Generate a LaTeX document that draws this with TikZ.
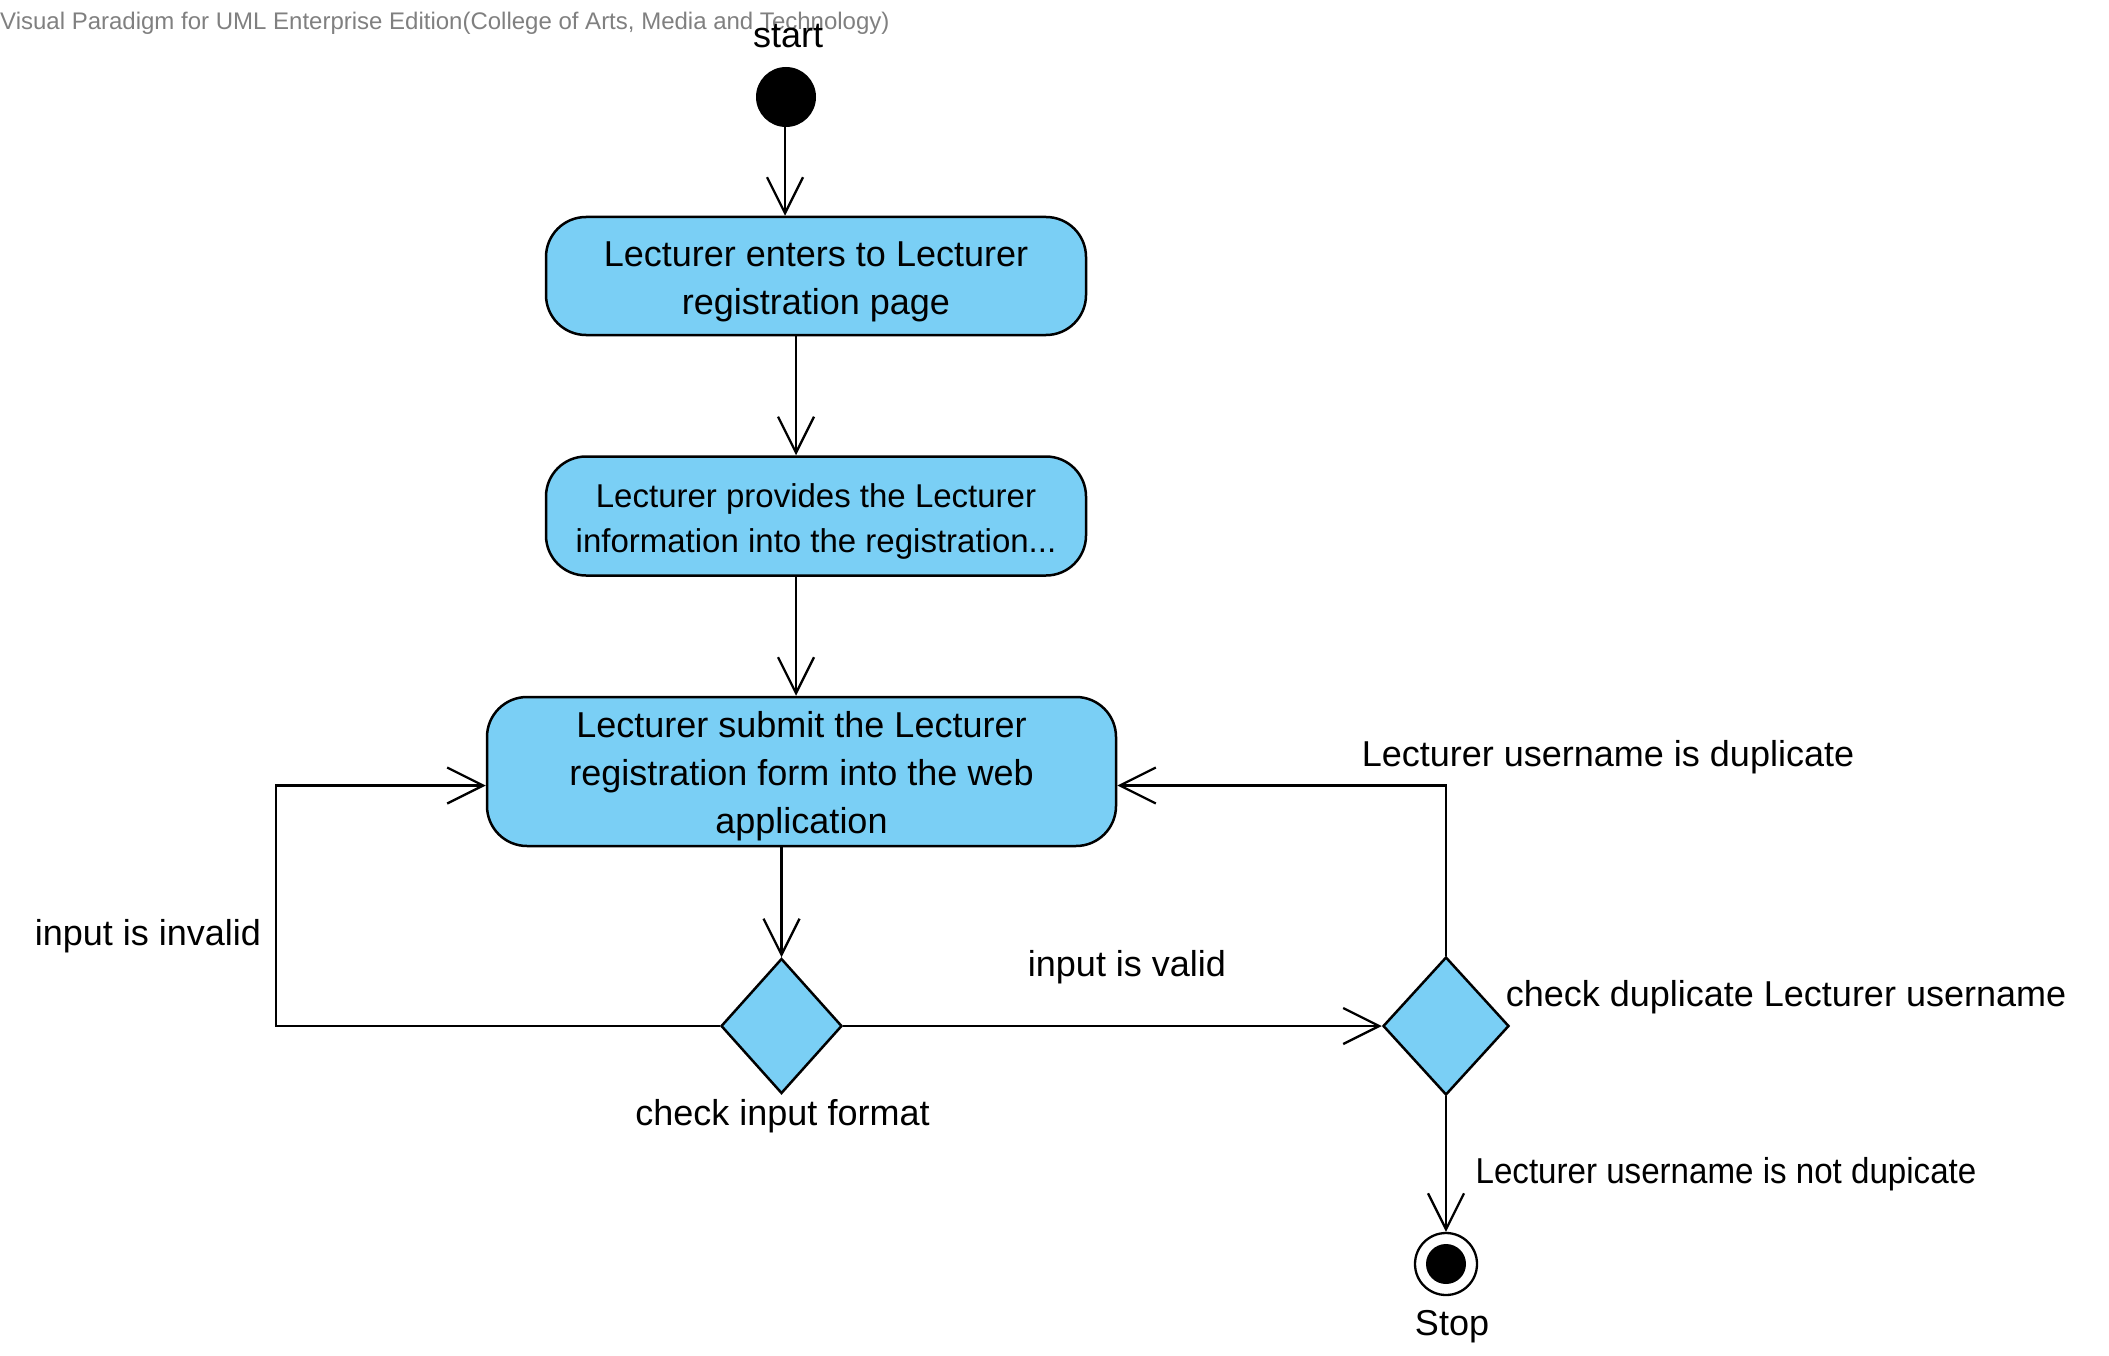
\documentclass[tikz,border=0pt]{standalone}
\usepackage{fontspec}
\setmainfont{Liberation Sans}
\usetikzlibrary{shapes.geometric,arrows.meta}
\definecolor{actfill}{RGB}{122,207,245}
\definecolor{hdrgray}{RGB}{128,128,128}
\begin{document}
\begin{tikzpicture}[x=1pt,y=-1pt,
  every node/.style={font=\fontsize{36}{48}\selectfont},
  act/.style={draw, line width=2.5pt, fill=actfill, rounded corners=40pt, inner sep=0pt},
  acttext/.style={inner sep=0pt, align=center, yshift=-6pt},
  decis/.style={draw, line width=2.5pt, fill=actfill, diamond, inner sep=0pt},
  lbl/.style={inner sep=0pt},
  flow/.style={line width=2.3pt, -{Straight Barb[length=36pt,width=36pt,line width=2.3pt]}}
]
\useasboundingbox (0,0) rectangle (2109,1356);
% header
\node[lbl, anchor=west, text=hdrgray, font=\fontsize{24}{29}\selectfont] (hdr) at (0,23) {Visual Paradigm for UML Enterprise Edition(College of Arts, Media and Technology)};
% nodes
\node[circle, fill=black, minimum size=60pt, inner sep=0pt] (start) at (786,97) {};
\node[lbl] (startlbl) at (788,36) {start};
\node[act, minimum width=540pt, minimum height=118pt,
  label={[acttext]center:Lecturer enters to Lecturer\\registration page}] (a1) at (816,276) {};
\node[act, minimum width=540pt, minimum height=119pt,
  label={[acttext, yshift=1pt, font=\fontsize{33}{45}\selectfont]center:Lecturer provides the Lecturer\\information into the registration...}] (a2) at (816,516) {};
\node[act, minimum width=629pt, minimum height=149pt,
  label={[acttext, yshift=1pt]center:Lecturer submit the Lecturer\\registration form into the web\\application}] (a3) at (801.5,771.5) {};
\node[decis, minimum width=121pt, minimum height=135pt] (d1) at (781.5,1026) {};
\node[decis, minimum width=126pt, minimum height=138pt] (d2) at (1446,1026) {};
\node[circle, draw, line width=2.3pt, fill=white, minimum size=62pt, inner sep=0pt] (stop) at (1446,1264) {};
\fill (stop.center) circle (20pt);
% labels
\node[lbl] (lchk) at (782.5,1116) {check input format};
\node[lbl] (ldup) at (1786,997) {check duplicate Lecturer username};
\node[lbl] (linv) at (148,936) {input is invalid};
\node[lbl] (lval) at (1127,967) {input is valid};
\node[lbl] (lisdup) at (1608,757) {Lecturer username is duplicate};
\node[lbl, xscale=0.92] (lnotdup) at (1726,1174) {Lecturer username is not dupicate};
\node[lbl] (lstop) at (1452,1327) {Stop};
% helper coordinates
\coordinate (c1) at (785,0);
\coordinate (c2) at (796,0);
\coordinate (L) at (276,785.5);
\coordinate (R) at (1446,785.5);
% connectors
\draw[flow] (start.south -| c1) -- (a1.north -| c1);
\draw[flow] (a1.south -| c2) -- (a2.north -| c2);
\draw[flow] (a2.south -| c2) -- (a3.north -| c2);
\draw[flow] (a3.south -| d1.north) -- (d1.north);
\draw[flow] (d1.west) -| (L) -- (a3.west |- L);
\draw[flow] (d1.east) -- (d2.west);
\draw[flow] (d2.north) -- (R) -- (a3.east |- R);
\draw[flow] (d2.south) -- (stop.north);
\end{tikzpicture}
\end{document}
